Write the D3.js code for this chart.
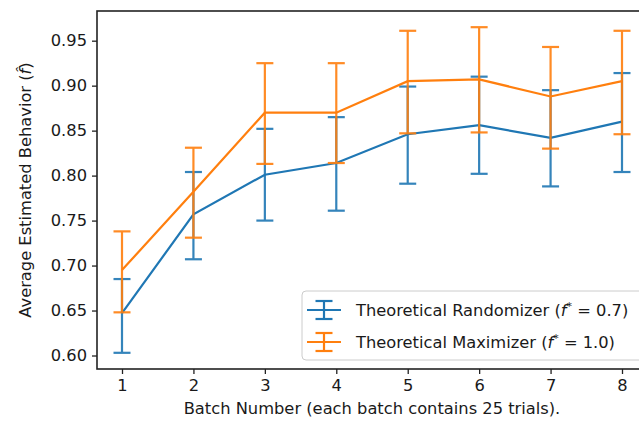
<!DOCTYPE html>
<html>
<head>
<meta charset="utf-8">
<script src="https://cdn.jsdelivr.net/npm/d3@7"></script>
<style>
  body { margin: 0; background: #fff; }
  svg { font-family: "DejaVu Sans", sans-serif; display: block; }
</style>
</head>
<body>
<svg id="chart" width="639" height="422"></svg>
<script>
const batches = [1, 2, 3, 4, 5, 6, 7, 8];
const yTicks = [0.60, 0.65, 0.70, 0.75, 0.80, 0.85, 0.90, 0.95];

// Theoretical Randomizer (f* = 0.7)
const randMean = [0.647, 0.757, 0.801, 0.814, 0.846, 0.856, 0.842, 0.860];
const randLow = [0.603, 0.707, 0.750, 0.761, 0.791, 0.802, 0.788, 0.804];
const randHigh = [0.685, 0.804, 0.852, 0.865, 0.899, 0.910, 0.895, 0.914];

// Theoretical Maximizer (f* = 1.0)
const maxMean = [0.695, 0.782, 0.870, 0.870, 0.905, 0.907, 0.888, 0.905];
const maxLow = [0.648, 0.731, 0.813, 0.814, 0.847, 0.848, 0.830, 0.846];
const maxHigh = [0.738, 0.831, 0.925, 0.925, 0.961, 0.965, 0.943, 0.961];

const series = [
  { label: "Theoretical Randomizer", fstar: "0.7", color: "#1f77b4", mean: randMean, low: randLow, high: randHigh },
  { label: "Theoretical Maximizer", fstar: "1.0", color: "#ff7f0e", mean: maxMean, low: maxLow, high: maxHigh }
];

const margin = { top: 11, right: -8, bottom: 53, left: 97 };
const width = 639, height = 422;
const capHalf = 8.5;
const fontSize = "16.3px";

const svg = d3.select("#chart");

const x = d3.scaleLinear()
  .domain([0.65, 8.35])
  .range([margin.left, width - margin.right]);

const y = d3.scaleLinear()
  .domain([0.585, 0.983])
  .range([height - margin.bottom, margin.top]);

// axes
const xAxis = svg.append("g")
  .attr("transform", `translate(0,${height - margin.bottom})`)
  .call(d3.axisBottom(x).tickValues(batches).tickSize(5).tickPadding(5).tickFormat(d3.format("d")));

const yAxis = svg.append("g")
  .attr("transform", `translate(${margin.left},0)`)
  .call(d3.axisLeft(y).tickValues(yTicks).tickSize(5).tickPadding(5).tickFormat(d3.format(".2f")));

[xAxis, yAxis].forEach(a => {
  a.select(".domain").remove();
  a.selectAll("line").attr("stroke", "#222").attr("stroke-width", 1.3);
  a.selectAll("text").attr("fill", "#1a1a1a").style("font-size", fontSize).style("font-family", "DejaVu Sans");
});

// spines
svg.append("rect")
  .attr("x", margin.left)
  .attr("y", margin.top)
  .attr("width", width - margin.right - margin.left)
  .attr("height", height - margin.bottom - margin.top)
  .attr("fill", "none")
  .attr("stroke", "#222")
  .attr("stroke-width", 1.6);

// lines + error bars
const line = (s) => d3.line()
  .x((d, i) => x(batches[i]))
  .y(d => y(d))(s.mean);

series.forEach(s => {
  const g = svg.append("g");
  const eb = g.append("g").attr("opacity", 0.9);
  batches.forEach((b, i) => {
    eb.append("line")
      .attr("x1", x(b)).attr("x2", x(b))
      .attr("y1", y(s.low[i])).attr("y2", y(s.high[i]))
      .attr("stroke", s.color).attr("stroke-width", 2.2);
    [s.low[i], s.high[i]].forEach(v => {
      eb.append("line")
        .attr("x1", x(b) - capHalf).attr("x2", x(b) + capHalf)
        .attr("y1", y(v)).attr("y2", y(v))
        .attr("stroke", s.color).attr("stroke-width", 2.2);
    });
  });
  g.append("path")
    .attr("d", line(s))
    .attr("fill", "none")
    .attr("stroke", s.color)
    .attr("stroke-width", 2.2);
});

// legend
const legend = svg.append("g");
legend.append("rect")
  .attr("x", 302).attr("y", 291)
  .attr("width", 350).attr("height", 69)
  .attr("rx", 4)
  .attr("fill", "#fff").attr("fill-opacity", 0.8)
  .attr("stroke", "#ccc");

series.forEach((s, i) => {
  const cy = 310 + i * 32;
  const row = legend.append("g");
  row.append("line").attr("x1", 307).attr("x2", 341).attr("y1", cy).attr("y2", cy)
    .attr("stroke", s.color).attr("stroke-width", 2.2);
  row.append("line").attr("x1", 324).attr("x2", 324).attr("y1", cy - 9).attr("y2", cy + 9)
    .attr("stroke", s.color).attr("stroke-width", 2.2);
  [cy - 9, cy + 9].forEach(v => {
    row.append("line").attr("x1", 324 - capHalf).attr("x2", 324 + capHalf).attr("y1", v).attr("y2", v)
      .attr("stroke", s.color).attr("stroke-width", 2.2);
  });
  const t = row.append("text")
    .attr("x", 356).attr("y", cy + 6)
    .attr("fill", "#1a1a1a")
    .style("font-size", fontSize);
  t.append("tspan").text(`${s.label} (`);
  t.append("tspan").style("font-style", "italic").text("f");
  t.append("tspan").attr("dy", -6).style("font-size", "11px").text("*");
  t.append("tspan").attr("dy", 6).text(` = ${s.fstar})`);
});

// axis titles
svg.append("text")
  .attr("x", x(4.5))
  .attr("y", 414)
  .attr("text-anchor", "middle")
  .attr("fill", "#1a1a1a")
  .style("font-size", fontSize)
  .text("Batch Number (each batch contains 25 trials).");

const yl = svg.append("text")
  .attr("transform", `translate(31,${(margin.top + height - margin.bottom) / 2}) rotate(-90)`)
  .attr("text-anchor", "middle")
  .attr("fill", "#1a1a1a")
  .style("font-size", fontSize);
yl.append("tspan").text("Average Estimated Behavior (");
yl.append("tspan").style("font-style", "italic").text("f\u0302");
yl.append("tspan").text(")");
</script>
</body>
</html>
